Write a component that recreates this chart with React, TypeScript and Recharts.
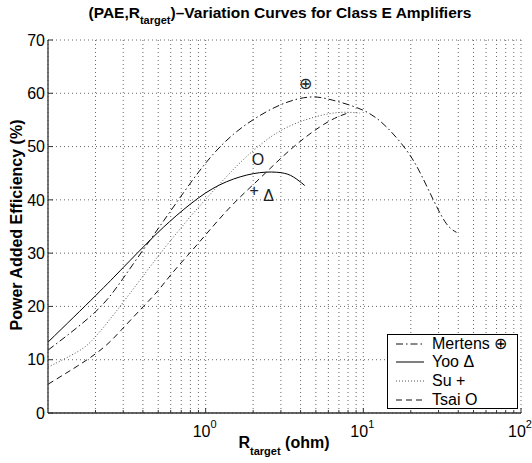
import { ComposedChart, Line, Scatter, XAxis, YAxis, CartesianGrid } from 'recharts';

// values (x in ohm, y in %)
const mertensX = [0.1, 0.2, 0.3, 0.45, 0.65, 1.0, 1.5, 2.2, 3.2, 4.6, 6.4, 10, 14, 18.8, 23, 28, 33.7, 39];
const mertensY = [11.8, 19.0, 25.3, 32.7, 39.4, 46.9, 52.3, 55.8, 58.2, 59.3, 58.7, 56.8, 53.7, 49.3, 45.0, 39.8, 35.5, 33.9];

const yooX = [0.1, 0.2, 0.3, 0.45, 0.65, 1.0, 1.5, 2.2, 3.0, 3.6, 4.25];
const yooY = [13.3, 22.0, 27.3, 32.6, 37.0, 41.3, 43.9, 45.1, 45.1, 44.3, 42.7];

const suX = [0.1, 0.15, 0.2, 0.3, 0.42, 0.55, 0.7, 0.9, 1.35, 1.8, 2.5, 3.5, 5, 7, 9.5];
const suY = [8.6, 11.3, 14.3, 20.8, 26.5, 31.0, 34.8, 38.6, 44.3, 48.0, 51.5, 54.0, 55.6, 56.4, 56.3];

const tsaiX = [0.1, 0.2, 0.29, 0.4, 0.5, 0.6, 0.77, 0.99, 1.46, 2.2, 3.1, 4.36, 6.1, 7.8];
const tsaiY = [5.4, 11.1, 15.5, 19.9, 23.0, 25.9, 29.6, 33.3, 38.9, 44.0, 48.2, 51.9, 54.8, 56.2];

// text markers placed on the plot
const markerX = [4.3, 2.15, 2.03, 2.51];
const markerY = [61.8, 47.7, 41.8, 40.8];
const markerText = ['⊕', 'O', '+', 'Δ'];

const seriesNames = ['Mertens ⊕', 'Yoo Δ', 'Su +', 'Tsai O'];

const xTicks = [0.2, 0.3, 0.4, 0.5, 0.6, 0.7, 0.8, 0.9, 1, 2, 3, 4, 5, 6, 7, 8, 9, 10, 20, 30, 40, 50, 60, 70, 80, 90, 100];
const yTicks = [0, 10, 20, 30, 40, 50, 60, 70];
const decadeExp: Record<number, string> = { 1: '0', 10: '1', 100: '2' };

const FONT = '"Liberation Sans", Arial, Helvetica, sans-serif';

const toPoints = (xs: number[], ys: number[]) => xs.map((x, i) => ({ x, y: ys[i] }));

const series = [
  { name: seriesNames[0], data: toPoints(mertensX, mertensY), dash: '7 3 1.5 3', color: '#111' },
  { name: seriesNames[1], data: toPoints(yooX, yooY), dash: undefined, color: '#000' },
  { name: seriesNames[2], data: toPoints(suX, suY), dash: '1 2', color: '#555' },
  { name: seriesNames[3], data: toPoints(tsaiX, tsaiY), dash: '6 4', color: '#111' },
];

const markers = markerX.map((x, i) => ({ x, y: markerY[i], label: markerText[i] }));

function XTick(props: any) {
  const { x, y, payload } = props;
  const exp = decadeExp[payload.value];
  const major = exp !== undefined;
  return (
    <g>
      <line x1={x} x2={x} y1={y} y2={y - (major ? 5 : 3)} stroke="#333" />
      {major && (
        <text x={x - 1} y={y + 24} textAnchor="middle" fontSize={16} fontFamily={FONT} fill="#000">
          <tspan>10</tspan>
          <tspan dy={-9} fontSize={11}>{exp}</tspan>
        </text>
      )}
    </g>
  );
}

function YTick(props: any) {
  const { x, y, payload } = props;
  return (
    <g>
      <line x1={x} x2={x + 5} y1={y} y2={y} stroke="#333" />
      <text x={x - 3} y={y} dy="0.36em" textAnchor="end" fontSize={16} fontFamily={FONT} fill="#000">
        {payload.value}
      </text>
    </g>
  );
}

function MarkerShape(props: any) {
  const { cx, cy, payload } = props;
  return (
    <text x={cx} y={cy} dy="0.36em" textAnchor="middle" fontSize={16} fontFamily={FONT} fill="#222">
      {payload.label}
    </text>
  );
}

function LegendBox() {
  return (
    <div
      style={{
        position: 'absolute',
        left: 387,
        top: 334,
        width: 129,
        height: 73,
        border: '1px solid #000',
        background: '#fff',
        fontFamily: FONT,
        fontSize: 16,
      }}
    >
      {series.map((s, i) => (
        <div key={s.name} style={{ position: 'absolute', left: 0, top: -0.5 + i * 18.7, height: 18, display: 'flex', alignItems: 'center' }}>
          <svg width={40} height={18}>
            <line x1={8} x2={36} y1={9} y2={9} stroke={s.color} strokeDasharray={s.dash} />
          </svg>
          <span style={{ marginLeft: 4, whiteSpace: 'nowrap' }}>{s.name}</span>
        </div>
      ))}
    </div>
  );
}

export default function App() {
  return (
    <div style={{ position: 'absolute', left: 0, top: 0, width: 532, height: 463, background: '#fff' }}>
      <ComposedChart width={532} height={463} margin={{ top: 40, right: 11, bottom: 0, left: 0 }}>
        <CartesianGrid stroke="#666" strokeDasharray="1 3" />
        <XAxis
          type="number"
          dataKey="x"
          scale="log"
          domain={[0.1, 100]}
          allowDataOverflow
          ticks={xTicks}
          interval={0}
          height={50}
          tickSize={0}
          tickMargin={0}
          tickLine={false}
          tick={<XTick />}
          axisLine={{ stroke: '#333', strokeWidth: 1.3 }}
        />
        <YAxis
          type="number"
          dataKey="y"
          domain={[0, 70]}
          ticks={yTicks}
          interval={0}
          width={48}
          tickSize={0}
          tickMargin={0}
          tickLine={false}
          tick={<YTick />}
          axisLine={{ stroke: '#333', strokeWidth: 1.3 }}
        />
        {series.map((s) => (
          <Line
            key={s.name}
            data={s.data}
            dataKey="y"
            type="natural"
            stroke={s.color}
            strokeWidth={1}
            strokeDasharray={s.dash}
            dot={false}
            isAnimationActive={false}
          />
        ))}
        <Scatter data={markers} dataKey="y" shape={<MarkerShape />} isAnimationActive={false} />
      </ComposedChart>
      <svg width={532} height={463} style={{ position: 'absolute', left: 0, top: 0, pointerEvents: 'none' }}>
        <text x={280} y={18} textAnchor="middle" fontFamily={FONT} fontWeight="bold" fontSize={15.5} fill="#000">
          <tspan>(PAE,R</tspan>
          <tspan dy={6} fontSize={11}>target</tspan>
          <tspan dy={-6}>)–Variation Curves for Class E Amplifiers</tspan>
        </text>
        <text x={284} y={448} textAnchor="middle" fontFamily={FONT} fontWeight="bold" fontSize={16} fill="#000">
          <tspan>R</tspan>
          <tspan dy={7} fontSize={11}>target</tspan>
          <tspan dy={-7}> (ohm)</tspan>
        </text>
        <text
          x={22}
          y={225}
          transform="rotate(-90 22 225)"
          textAnchor="middle"
          fontFamily={FONT}
          fontWeight="bold"
          fontSize={16}
          fill="#000"
        >
          Power Added Efficiency (%)
        </text>
      </svg>
      <LegendBox />
    </div>
  );
}
